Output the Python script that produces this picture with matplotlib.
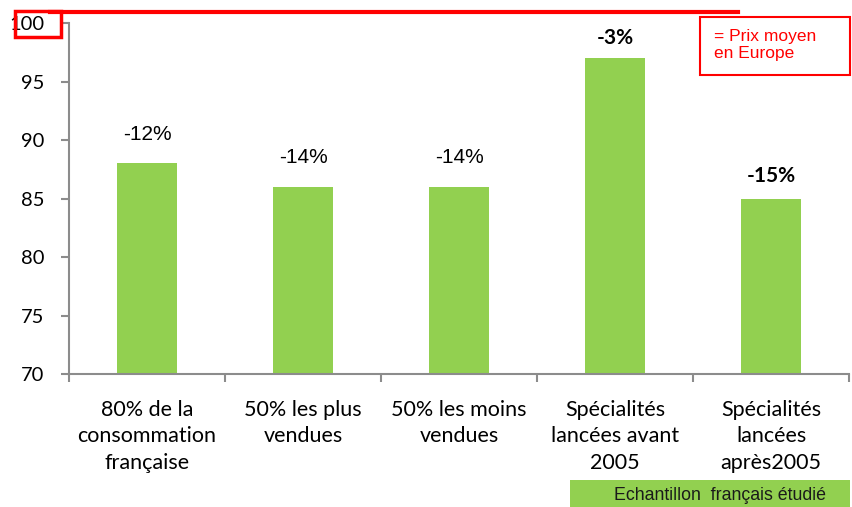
import numpy as np
import matplotlib.pyplot as plt
from matplotlib.patches import Rectangle
from matplotlib.lines import Line2D

categories = ["80% de la\nconsommation\nfrançaise", "50% les plus\nvendues",
              "50% les moins\nvendues", "Spécialités\nlancées avant\n2005",
              "Spécialités\nlancées\naprès2005"]
values = [88, 86, 86, 97, 85]
pct_labels = ["-12%", "-14%", "-14%", "-3%", "-15%"]
yticks = [70, 75, 80, 85, 90, 95, 100]

green = "#92D050"
grey = "#8c8c8c"
red = "#ff0000"

# the first three labels are in Arial, the last two in a bolder narrow face
label_style = [
    dict(family="Liberation Sans", fontsize=15, offset=2.0),
    dict(family="Liberation Sans", fontsize=15, offset=2.0),
    dict(family="Liberation Sans", fontsize=15, offset=2.0),
    dict(family="Lato", fontsize=15, fontweight="bold", offset=1.2),
    dict(family="Lato", fontsize=15, fontweight="bold", offset=1.45),
]

plt.rcParams["font.family"] = ["Lato", "DejaVu Sans"]

fig = plt.figure(figsize=(8.52, 5.07), dpi=100)
ax = fig.add_axes([0.081, 0.2623, 0.9155, 0.6923])

x = np.arange(len(categories))
ax.bar(x, values, width=0.39, color=green, zorder=2)
for xi, v, lab, st in zip(x, values, pct_labels, label_style):
    st = dict(st)
    off = st.pop("offset")
    ax.text(xi, v + off, lab, ha="center", va="baseline", **st)

ax.set_xlim(-0.5, len(categories) - 0.5)
ax.set_ylim(70, 100)
ax.set_yticks(yticks)
ax.set_yticklabels([str(t) for t in yticks], fontsize=14.5)
ax.set_xticks(x)
ax.set_xticklabels(categories, fontsize=15.5, linespacing=1.38)
ax.set_xticks(np.arange(-0.5, len(categories)), minor=True)
ax.tick_params(axis="x", which="major", length=0, pad=19)
ax.tick_params(axis="x", which="minor", length=6, color=grey, width=1.5)
ax.tick_params(axis="y", length=6, color=grey, width=1.5, pad=12)

for s in ["top", "right"]:
    ax.spines[s].set_visible(False)
for s in ["left", "bottom"]:
    ax.spines[s].set_color(grey)
    ax.spines[s].set_linewidth(1.5)

# red reference line at top
fig.add_artist(Line2D([50 / 852, 738 / 852], [1 - 12 / 507, 1 - 12 / 507],
                      color=red, lw=3, transform=fig.transFigure))
# red box around 100
fig.add_artist(Rectangle((15 / 852, 1 - 37 / 507), 46 / 852, 26 / 507,
                         fill=False, edgecolor=red, lw=2.5,
                         transform=fig.transFigure))
# legend box
fig.add_artist(Rectangle((700 / 852, 1 - 75 / 507), 150 / 852, 58 / 507,
                         facecolor="white", edgecolor=red, lw=1.5,
                         transform=fig.transFigure))
fig.text(714 / 852, 1 - 45 / 507, "= Prix moyen\nen Europe", color=red,
         fontsize=12.5, family="Liberation Sans", va="center", ha="left",
         linespacing=1.1)

# green sample box
fig.add_artist(Rectangle((570 / 852, 0), 280 / 852, 27 / 507,
                         facecolor=green, edgecolor="none",
                         transform=fig.transFigure))
fig.text(720 / 852, 12 / 507, "Echantillon  français étudié", color="#1a1a1a",
         fontsize=12.8, family="Liberation Sans", va="center", ha="center")

fig.savefig("out.png", dpi=100)
